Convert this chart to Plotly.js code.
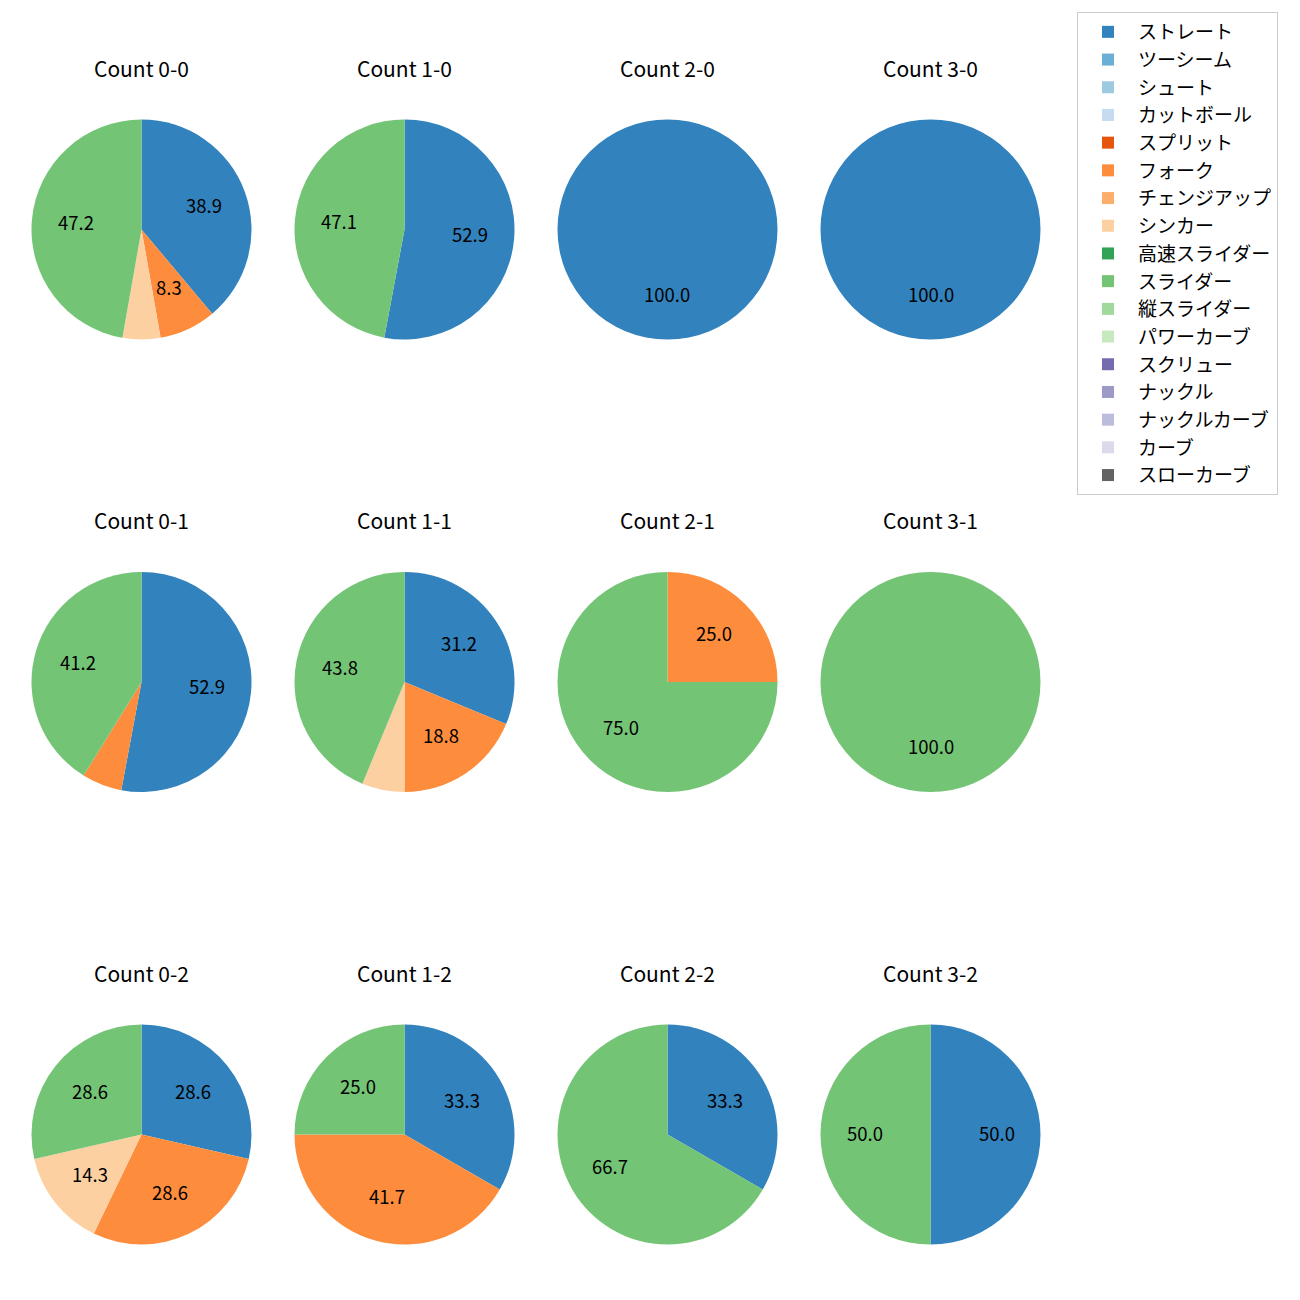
<!DOCTYPE html>
<html><head><meta charset="utf-8">
<script src="https://cdn.plot.ly/plotly-3.0.1.min.js"></script>
<style>body{margin:0;background:#fff}#chart{width:1300px;height:1300px}</style>
</head><body><div id="chart"></div>
<script>
// Pitch types (legend order) and colours
const pitchTypes = ["ストレート","ツーシーム","シュート","カットボール","スプリット","フォーク","チェンジアップ","シンカー","高速スライダー","スライダー","縦スライダー","パワーカーブ","スクリュー","ナックル","ナックルカーブ","カーブ","スローカーブ"];
const pitchColors = ["#3182bd","#6baed6","#9ecae1","#c6dbef","#e6550d","#fd8d3c","#fdae6b","#fdd0a2","#31a354","#74c476","#a1d99b","#c7e9c0","#756bb1","#9e9ac8","#bcbddc","#dadaeb","#636363"];

// Panel titles (row-major: balls across, strikes down)
const countTitles = ["Count 0-0","Count 1-0","Count 2-0","Count 3-0",
                     "Count 0-1","Count 1-1","Count 2-1","Count 3-1",
                     "Count 0-2","Count 1-2","Count 2-2","Count 3-2"];

// Pitch counts per panel (order: ストレート, フォーク, シンカー, スライダー)
const straight = [14, 9, 1, 1,   9, 5, 0, 0,   2, 4, 1, 1];
const fork     = [ 3, 0, 0, 0,   1, 3, 1, 0,   2, 5, 0, 0];
const sinker   = [ 2, 0, 0, 0,   0, 1, 0, 0,   1, 0, 0, 0];
const slider   = [17, 8, 0, 0,   7, 7, 3, 1,   2, 3, 2, 1];

// ---- layout constants ----
const W = 1300, H = 1300;
const colX = [141.5, 404.5, 667.5, 930.5];
const rowY = [229.5, 682, 1134.5];
const R = 110;
const FONT = '"Noto Sans CJK JP", "Noto Sans", sans-serif';

// one-decimal formatting with round-half-even (like Python's '%1.1f')
function fmt1(p) {
  const x = p * 10;
  const f = Math.floor(x);
  const d = x - f;
  let r;
  if (Math.abs(d - 0.5) < 1e-9) r = (f % 2 === 0) ? f : f + 1;
  else r = Math.round(x);
  return (r / 10).toFixed(1);
}

const traces = [], annotations = [];
countTitles.forEach((title, i) => {
  const cx = colX[i % 4], cy = rowY[Math.floor(i / 4)];
  const vals = pitchTypes.map(() => 0);
  vals[pitchTypes.indexOf("ストレート")] = straight[i];
  vals[pitchTypes.indexOf("フォーク")] = fork[i];
  vals[pitchTypes.indexOf("シンカー")] = sinker[i];
  vals[pitchTypes.indexOf("スライダー")] = slider[i];
  traces.push({
    type: 'pie', labels: pitchTypes, values: vals, sort: false,
    direction: 'clockwise', rotation: 0, textinfo: 'none', hoverinfo: 'label+percent',
    marker: {colors: pitchColors, line: {width: 0}},
    domain: {x: [(cx - R) / W, (cx + R) / W], y: [1 - (cy + R) / H, 1 - (cy - R) / H]},
    showlegend: i === 0
  });
  annotations.push({
    text: title, x: cx / W, y: 1 - (cy - 161) / H, xref: 'paper', yref: 'paper',
    showarrow: false, xanchor: 'center', yanchor: 'middle', yshift: 1,
    font: {family: FONT, size: 21, color: '#000'}
  });
  const total = vals.reduce((a, b) => a + b, 0);
  let cum = 0;
  vals.forEach(v => {
    if (v > 0) {
      const pct = 100 * v / total;
      const mid = (90 - 360 * (cum + v / 2) / total) * Math.PI / 180;
      if (pct >= 7) {
        annotations.push({
          text: fmt1(pct),
          x: (cx + 0.6 * R * Math.cos(mid)) / W,
          y: 1 - (cy - 0.6 * R * Math.sin(mid)) / H,
          xref: 'paper', yref: 'paper', showarrow: false,
          xanchor: 'center', yanchor: 'middle', yshift: 2,
          font: {family: FONT, size: 18.5, color: '#000'}
        });
      }
    }
    cum += v;
  });
});

const layout = {
  width: W, height: H, margin: {l: 0, r: 0, t: 0, b: 0},
  paper_bgcolor: '#fff', plot_bgcolor: '#fff',
  font: {family: FONT, size: 19, color: '#000'},
  annotations: annotations,
  showlegend: true,
  legend: {
    x: 1077 / W, y: 1 - 12 / H, xanchor: 'left', yanchor: 'top',
    bgcolor: '#fff', bordercolor: '#cccccc', borderwidth: 1,
    itemwidth: 50,
    font: {family: FONT, size: 19, color: '#000'}, traceorder: 'normal'
  }
};
Plotly.newPlot('chart', traces, layout, {displayModeBar: false});
</script></body></html>
